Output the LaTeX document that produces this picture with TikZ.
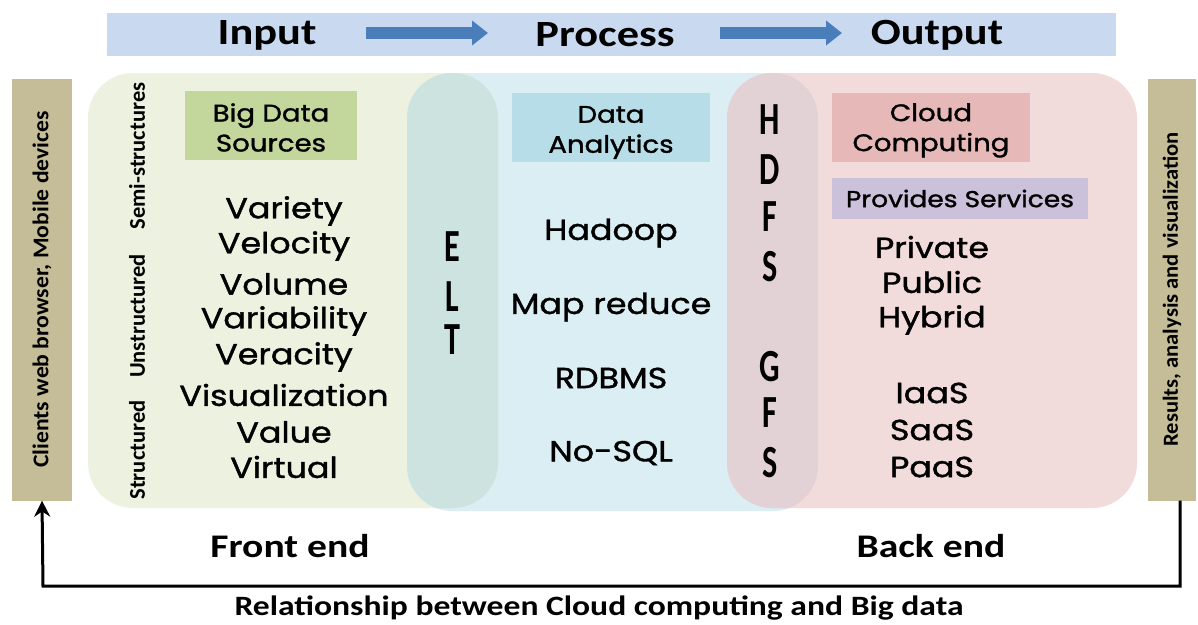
\documentclass[tikz,border=0pt]{standalone}
\usepackage{fontspec}
\setmainfont{Carlito}
\newfontfamily\geo{Poppins}[FakeBold=1.2]
\usetikzlibrary{arrows.meta}
\definecolor{banbg}{HTML}{C9DAF0}
\definecolor{arrblue}{HTML}{4A7EBB}
\definecolor{tan}{HTML}{C4BD97}
\definecolor{greenbg}{HTML}{ECF2DF}
\definecolor{bluebg}{HTML}{DAEEF3}
\definecolor{pinkbg}{HTML}{F2DCDB}
\definecolor{eltbg}{HTML}{CDE3E0}
\definecolor{hdfsbg}{HTML}{E3D2D5}
\definecolor{bdsbox}{HTML}{C3D69B}
\definecolor{dabox}{HTML}{B7DEE8}
\definecolor{ccbox}{HTML}{E6B9B8}
\definecolor{psbox}{HTML}{CCC1DA}
\newcommand{\wx}[2]{\scalebox{#1}[1]{#2}}
\tikzset{
  hdr/.style={font=\fontsize{37}{37}\selectfont\bfseries, inner sep=0pt},
  item/.style={font=\geo\fontsize{29}{29}\selectfont, inner sep=0pt},
  boxtxt/.style={font=\geo\fontsize{24}{30}\selectfont, align=center, inner sep=0pt},
  vlab/.style={font=\fontsize{22.5}{22.5}\selectfont\bfseries, rotate=90, inner sep=0pt},
  big/.style={font=\fontsize{46}{46}\selectfont\bfseries, inner sep=0pt},
  bar/.style={fill=tan, minimum height=422pt, inner sep=0pt},
  blockarrow/.style={draw=arrblue, line width=12pt, -{Triangle[length=16pt,width=24pt]}},
  feedback/.style={draw=black, line width=3pt, -{Stealth[length=16pt,width=16pt]}},
}
\begin{document}
\begin{tikzpicture}[x={(1pt,0)},y={(0,-1pt)}]
\useasboundingbox (0,0) rectangle (1198,624);
\fill[white] (0,0) rectangle (1198,624);

% banner
\node[fill=banbg, minimum width=1009pt, minimum height=43pt, inner sep=0pt] (banner) at (611.5,34.5) {};
\node[hdr] (inp) at (267,35) {\wx{1.2}{Input}};
\node[hdr] (proc) at (605,35) {\wx{1.2}{Process}};
\node[hdr] (outp) at (937,35) {\wx{1.2}{Output}};
\coordinate (a1s) at (366,33); \coordinate (a1e) at (488,33);
\coordinate (a2s) at (720,33); \coordinate (a2e) at (842,33);
\draw[blockarrow] (a1s) -- (a1e);
\draw[blockarrow] (a2s) -- (a2e);

% regions
\fill[greenbg, rounded corners=45pt] (88,73) rectangle (498,508);
\fill[bluebg, rounded corners=45pt] (407,73) rectangle (818,511);
\fill[pinkbg, rounded corners=45pt] (727,73) rectangle (1137,508);
\begin{scope}
  \clip[rounded corners=45pt] (88,73) rectangle (498,508);
  \fill[eltbg, rounded corners=45pt] (407,73) rectangle (818,511);
\end{scope}
\begin{scope}
  \clip[rounded corners=45pt] (407,73) rectangle (818,511);
  \fill[hdfsbg, rounded corners=45pt] (727,73) rectangle (1137,508);
\end{scope}

% side bars
\node[bar, minimum width=60pt] (lbar) at (42,289.5) {};
\node[bar, minimum width=48pt] (rbar) at (1172,289.5) {};
\node[vlab, font=\fontsize{22.5}{22.5}\selectfont\bfseries] (lbl) at (lbar) {\wx{1.05}{Clients web browser, Mobile devices}};
\node[vlab, font=\fontsize{21.5}{21.5}\selectfont\bfseries] (rbl) at (rbar) {\wx{1.05}{Results, analysis and visualization}};

% input column
\node[vlab] (semi) at (137,156) {Semi-structures};
\node[vlab] (unst) at (137,316) {Unstructured};
\node[vlab] (stru) at (137,450) {Structured};
\node[fill=bdsbox, minimum width=172pt, minimum height=69pt, inner sep=0pt] (bds) at (271,125.5) {};
\node[boxtxt] (bdst) at ([yshift=-2pt]bds.center) {\wx{1.15}{Big Data}\\\wx{1.15}{Sources}};
\node[item] (v1) at (284,211) {\wx{1.15}{Variety}};
\node[item] (v2) at (284,246) {\wx{1.15}{Velocity}};
\node[item] (v3) at (284,284) {\wx{1.15}{Volume}};
\node[item] (v4) at (284,321) {\wx{1.15}{Variability}};
\node[item] (v5) at (284,357) {\wx{1.15}{Veracity}};
\node[item] (v6) at (284,395) {\wx{1.15}{Visualization}};
\node[item] (v7) at (284,432) {\wx{1.15}{Value}};
\node[item] (v8) at (284,467) {\wx{1.15}{Virtual}};

% ELT
\node[big] (e) at (452,247) {\wx{0.7}{E}};
\node[big] (l) at (452,297) {\wx{0.7}{L}};
\node[big] (t) at (452,340) {\wx{0.7}{T}};

% process column
\node[fill=dabox, minimum width=198pt, minimum height=69pt, inner sep=0pt] (da) at (611,127.5) {};
\node[boxtxt] (dat) at ([yshift=-5pt]da.center) {\wx{1.15}{Data}\\\wx{1.15}{Analytics}};
\node[item] (p1) at (611,233) {\wx{1.15}{Hadoop}};
\node[item] (p2) at (611,307) {\wx{1.15}{Map reduce}};
\node[item] (p3) at (611,378) {\wx{1.15}{RDBMS}};
\node[item] (p4) at (611,453) {\wx{1.15}{No-SQL}};

% HDFS GFS
\node[big] (h1) at (770,120) {\wx{0.7}{H}};
\node[big] (h2) at (770,170) {\wx{0.7}{D}};
\node[big] (h3) at (770,217) {\wx{0.7}{F}};
\node[big] (h4) at (770,267) {\wx{0.7}{S}};
\node[big] (g1) at (770,367) {\wx{0.7}{G}};
\node[big] (g2) at (770,413) {\wx{0.7}{F}};
\node[big] (g3) at (770,463) {\wx{0.7}{S}};

% output column
\node[fill=ccbox, minimum width=198pt, minimum height=69pt, inner sep=0pt] (cc) at (931,127.5) {};
\node[boxtxt] (cct) at ([yshift=-3pt]cc.center) {\wx{1.15}{Cloud}\\\wx{1.15}{Computing}};
\node[fill=psbox, minimum width=256pt, minimum height=41pt, inner sep=0pt] (ps) at (960,198.5) {};
\node[boxtxt, font=\geo\fontsize{23}{23}\selectfont] (pst) at (ps) {\wx{1.15}{Provides Services}};
\node[item] (o1) at (932,247) {\wx{1.15}{Private}};
\node[item] (o2) at (932,282) {\wx{1.15}{Public}};
\node[item] (o3) at (932,320) {\wx{1.15}{Hybrid}};
\node[item] (o4) at (932,393) {\wx{1.15}{IaaS}};
\node[item] (o5) at (932,430) {\wx{1.15}{SaaS}};
\node[item] (o6) at (932,467) {\wx{1.15}{PaaS}};

% bottom
\node[hdr, font=\fontsize{33}{33}\selectfont\bfseries] (fe) at (290,546) {\wx{1.2}{Front end}};
\node[hdr, font=\fontsize{33}{33}\selectfont\bfseries] (be) at (931,546) {\wx{1.2}{Back end}};
\node[hdr, font=\fontsize{28}{28}\selectfont\bfseries] (cap) at (599,608) {\wx{1.2}{Relationship between Cloud computing and Big data}};
\coordinate (fbr) at (1180,586);
\coordinate (fbl) at (43,586);
\draw[feedback] ([xshift=8pt]rbar.south) -- (fbr) -- (fbl) -- (lbar.south);
\end{tikzpicture}
\end{document}
